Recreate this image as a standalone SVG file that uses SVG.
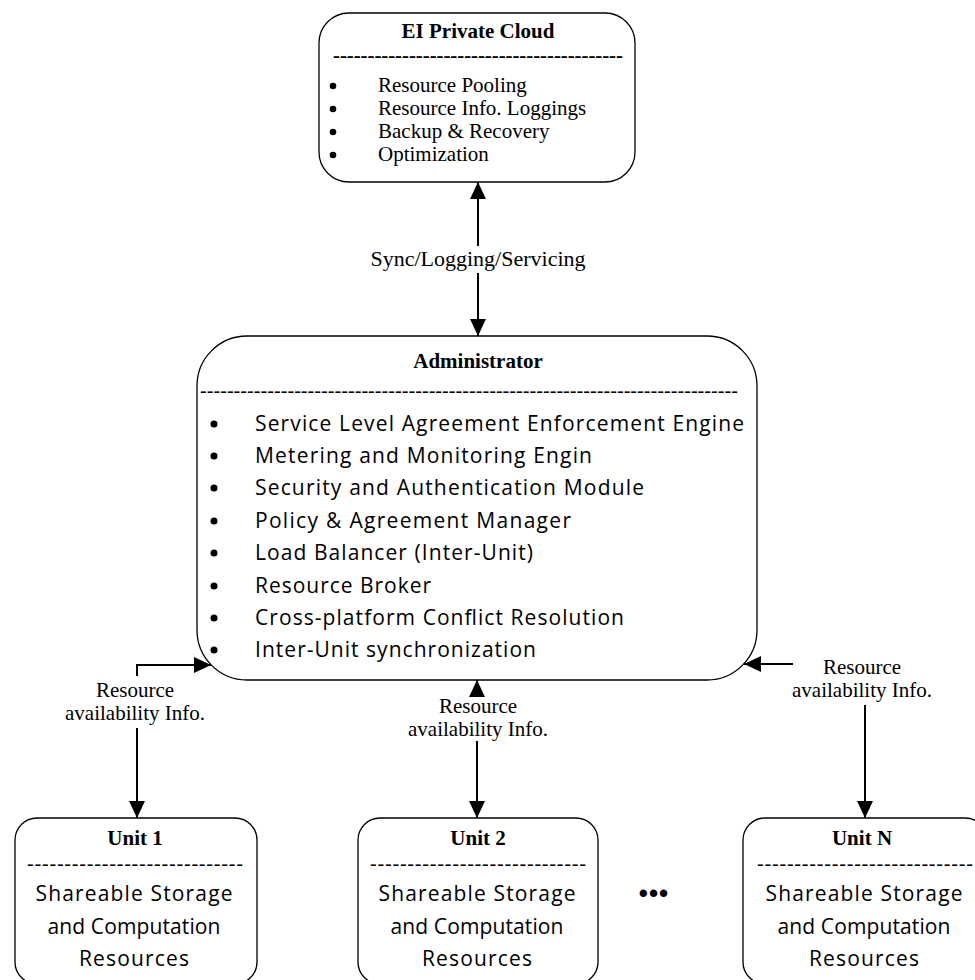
<svg xmlns="http://www.w3.org/2000/svg" width="975" height="980" viewBox="0 0 975 980">
<style>
.box{fill:#fff;stroke:#000;stroke-width:1.3}
.serif{font-family:"Liberation Serif","Times New Roman",serif;font-size:21px;fill:#000}
.bold{font-weight:bold}
.sans{font-family:"Open Sans","Liberation Sans",sans-serif;font-size:21px;fill:#000}
.usans{font-family:"Open Sans","Liberation Sans",sans-serif;font-size:21px;fill:#000}
.mid{text-anchor:middle}
.conn{fill:none;stroke:#000;stroke-width:2}
</style>
<defs>
<marker id="ah" markerUnits="userSpaceOnUse" markerWidth="18" markerHeight="17" refX="17" refY="8" orient="auto">
<path d="M0,0 L17,8 L0,16 z" fill="#000"/>
</marker>
</defs>
<rect width="975" height="980" fill="#fff"/>

<g id="ei-cloud">
<rect class="box" x="319" y="13" width="316" height="169" rx="30"/>
<text class="serif bold mid" x="478" y="38">EI Private Cloud</text>
<text class="serif bold" x="333" y="62" textLength="290" lengthAdjust="spacing">------------------------------------------</text>
<circle cx="333" cy="86" r="3.3"/><text class="serif" x="378" y="92">Resource Pooling</text>
<circle cx="333" cy="109" r="3.3"/><text class="serif" x="378" y="115">Resource Info. Loggings</text>
<circle cx="333" cy="132" r="3.3"/><text class="serif" x="378" y="138">Backup &amp; Recovery</text>
<circle cx="333" cy="155" r="3.3"/><text class="serif" x="378" y="161">Optimization</text>
</g>

<g id="administrator">
<rect class="box" x="197" y="336" width="560" height="344" rx="50"/>
<text class="serif bold mid" x="478" y="368">Administrator</text>
<text class="sans" x="200" y="398" textLength="538" lengthAdjust="spacing">--------------------------------------------------------------------------------</text>
<circle cx="214" cy="424" r="3.5"/><text class="sans" x="255" y="431" textLength="489" lengthAdjust="spacing">Service Level Agreement Enforcement Engine</text>
<circle cx="214" cy="456" r="3.5"/><text class="sans" x="255" y="463" textLength="337" lengthAdjust="spacing">Metering and Monitoring Engin</text>
<circle cx="214" cy="488" r="3.5"/><text class="sans" x="255" y="495" textLength="389" lengthAdjust="spacing">Security and Authentication Module</text>
<circle cx="214" cy="521" r="3.5"/><text class="sans" x="255" y="528" textLength="316" lengthAdjust="spacing">Policy &amp; Agreement Manager</text>
<circle cx="214" cy="553" r="3.5"/><text class="sans" x="255" y="560" textLength="278" lengthAdjust="spacing">Load Balancer (Inter-Unit)</text>
<circle cx="214" cy="586" r="3.5"/><text class="sans" x="255" y="593" textLength="176" lengthAdjust="spacing">Resource Broker</text>
<circle cx="214" cy="618" r="3.5"/><text class="sans" x="255" y="625" textLength="369" lengthAdjust="spacing">Cross-platform Conflict Resolution</text>
<circle cx="214" cy="650" r="3.5"/><text class="sans" x="255" y="657" textLength="281" lengthAdjust="spacing">Inter-Unit synchronization</text>
</g>

<g id="unit-1">
<rect class="box" x="15" y="818" width="242" height="166" rx="22"/>
<text class="serif bold mid" x="135" y="845">Unit 1</text>
<text class="usans" x="27" y="871" textLength="216" lengthAdjust="spacing">-----------------------------</text>
<text class="usans mid" x="134" y="901" textLength="197" lengthAdjust="spacing">Shareable Storage</text>
<text class="usans mid" x="134" y="934" textLength="173" lengthAdjust="spacing">and Computation</text>
<text class="usans mid" x="134" y="966" textLength="110" lengthAdjust="spacing">Resources</text>
</g>

<g id="unit-2">
<rect class="box" x="358" y="818" width="240" height="166" rx="22"/>
<text class="serif bold mid" x="478" y="845">Unit 2</text>
<text class="usans" x="370" y="871" textLength="216" lengthAdjust="spacing">-----------------------------</text>
<text class="usans mid" x="477" y="901" textLength="197" lengthAdjust="spacing">Shareable Storage</text>
<text class="usans mid" x="477" y="934" textLength="173" lengthAdjust="spacing">and Computation</text>
<text class="usans mid" x="477" y="966" textLength="110" lengthAdjust="spacing">Resources</text>
</g>

<g id="ellipsis">
<text x="654" y="902" font-family="Liberation Sans, sans-serif" font-size="26" font-weight="bold" text-anchor="middle" letter-spacing="1">•••</text>
</g>

<g id="unit-n">
<rect class="box" x="743" y="818" width="244" height="166" rx="22"/>
<text class="serif bold mid" x="862" y="845">Unit N</text>
<text class="usans" x="757" y="871" textLength="216" lengthAdjust="spacing">-----------------------------</text>
<text class="usans mid" x="864" y="901" textLength="197" lengthAdjust="spacing">Shareable Storage</text>
<text class="usans mid" x="864" y="934" textLength="173" lengthAdjust="spacing">and Computation</text>
<text class="usans mid" x="864" y="966" textLength="110" lengthAdjust="spacing">Resources</text>
</g>

<g id="connectors">
<line class="conn" x1="478" y1="246" x2="478" y2="182" marker-end="url(#ah)"/>
<line class="conn" x1="478" y1="273" x2="478" y2="336" marker-end="url(#ah)"/>
<text class="serif mid" x="478" y="266" style="font-size:22px">Sync/Logging/Servicing</text>

<path class="conn" d="M137,676 L137,665 L211,665" marker-end="url(#ah)"/>
<line class="conn" x1="137" y1="728" x2="137" y2="818" marker-end="url(#ah)"/>
<text class="serif mid" x="135" y="697">Resource</text>
<text class="serif mid" x="135" y="720">availability Info.</text>

<line class="conn" x1="477" y1="697" x2="477" y2="680" marker-end="url(#ah)"/>
<line class="conn" x1="477" y1="741" x2="477" y2="818" marker-end="url(#ah)"/>
<text class="serif mid" x="478" y="713">Resource</text>
<text class="serif mid" x="478" y="736">availability Info.</text>

<line class="conn" x1="793" y1="664" x2="744" y2="664" marker-end="url(#ah)"/>
<line class="conn" x1="865" y1="705" x2="865" y2="818" marker-end="url(#ah)"/>
<text class="serif mid" x="862" y="674">Resource</text>
<text class="serif mid" x="862" y="697">availability Info.</text>
</g>
</svg>
